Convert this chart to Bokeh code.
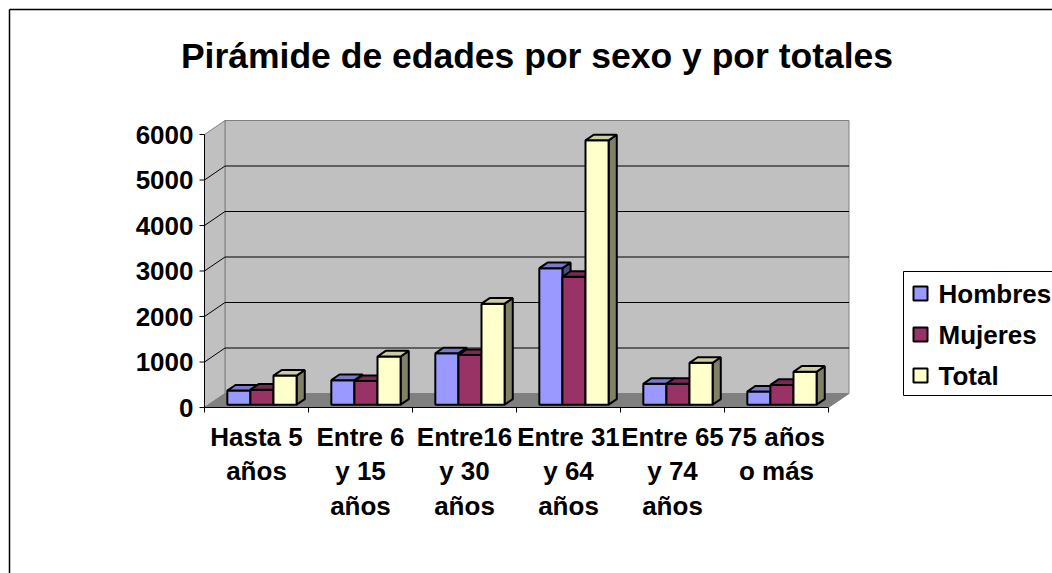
from bokeh.plotting import figure
from bokeh.models import Range1d
from bokeh.core.properties import value
from bokeh.embed import file_html
from bokeh.resources import INLINE

# ---------------- data ----------------
categories = ["Hasta 5\naños", "Entre 6\ny 15\naños", "Entre16\ny 30\naños",
              "Entre 31\ny 64\naños", "Entre 65\ny 74\naños", "75 años\no más"]
series_names = ["Hombres", "Mujeres", "Total"]
hombres = [310, 540, 1130, 3000, 460, 290]
mujeres = [330, 520, 1090, 2810, 460, 435]
total = [640, 1060, 2220, 5810, 920, 725]
y_ticks = [0, 1000, 2000, 3000, 4000, 5000, 6000]
y_tick_labels = ["0", "1000", "2000", "3000", "4000", "5000", "6000"]
title_text = "Pirámide de edades por sexo y por totales"

front_colors = ["#9999FF", "#993366", "#FFFFCC"]
top_colors = ["#7A7ACC", "#7A2952", "#CCCCA3"]
side_colors = ["#4C4C80", "#4C1933", "#808066"]
series_values = [hombres, mujeres, total]

# ---------------- layout ----------------
W, H = 1052, 573
CAT_PX = 104.0          # pixels per category on the front plane
VAL_PX = 45.5 / 1000.0  # pixels per value unit
X0 = 204.0              # canvas px of category origin
Y0 = 407.0              # canvas px (from top) of value 0

def sx(px):
    return (px - X0) / CAT_PX

def sy(py):
    return (Y0 - py) / VAL_PX

DX = 20.5 / CAT_PX
DY = 14.0 / VAL_PX
NCAT = len(categories)
YMAX = y_ticks[-1]

p = figure(width=W, height=H, output_backend="svg", toolbar_location=None,
           title=None, x_axis_location=None, y_axis_location=None,
           x_range=Range1d(-X0 / CAT_PX, (W - X0) / CAT_PX),
           y_range=Range1d(-(H - Y0) / VAL_PX, Y0 / VAL_PX),
           min_border=0, min_border_left=0, min_border_right=0,
           min_border_top=0, min_border_bottom=0)
p.grid.visible = False
p.outline_line_color = None
p.background_fill_color = "white"
p.border_fill_color = "white"

FONT = value("Liberation Sans")

# chart border (left + top visible)
p.segment(x0=[sx(9), sx(9)], y0=[sy(9), sy(9)], x1=[sx(9), sx(1200)], y1=[sy(800), sy(9)],
          line_color="black", line_width=1.5)

# title
p.text(x=[sx(536.5)], y=[sy(55)], text=[title_text], text_font=FONT,
       text_font_style="bold", text_font_size="35.5px", text_align="center",
       text_baseline="middle", text_color="black")

# walls and floor
p.patches(xs=[[DX, NCAT + DX, NCAT + DX, DX]], ys=[[DY, DY, YMAX + DY, YMAX + DY]],
          fill_color="#C0C0C0", line_color="#808080", line_width=1)
p.patches(xs=[[0, DX, DX, 0]], ys=[[0, DY, YMAX + DY, YMAX]],
          fill_color="#C0C0C0", line_color="#808080", line_width=1)
p.patches(xs=[[0, NCAT, NCAT + DX, DX]], ys=[[0, 0, DY, DY]],
          fill_color="#808080", line_color="#808080", line_width=1)

# gridlines
inner = y_ticks[1:-1]
p.segment(x0=[DX] * len(inner), y0=[v + DY for v in inner],
          x1=[NCAT + DX] * len(inner), y1=[v + DY for v in inner],
          line_color="black", line_width=1)
p.segment(x0=[0] * len(inner), y0=inner, x1=[DX] * len(inner),
          y1=[v + DY for v in inner], line_color="black", line_width=1)

# bars
GAP_L = 0.18
BW = 0.222
F0, F1 = 0.2, 0.6
ox0, oy0 = F0 * DX, F0 * DY
ddx, ddy = (F1 - F0) * DX, (F1 - F0) * DY
for j, vals in enumerate(series_values):
    fxs, fys, txs, tys, sxs, sys_ = [], [], [], [], [], []
    for i, v in enumerate(vals):
        xl = i + GAP_L + j * BW + ox0
        xr = xl + BW
        yb = oy0
        yt = v + oy0
        fxs.append([xl, xr, xr, xl]); fys.append([yb, yb, yt, yt])
        txs.append([xl, xr, xr + ddx, xl + ddx]); tys.append([yt, yt, yt + ddy, yt + ddy])
        sxs.append([xr, xr + ddx, xr + ddx, xr]); sys_.append([yb, yb + ddy, yt + ddy, yt])
    p.patches(xs=sxs, ys=sys_, fill_color=side_colors[j], line_color="black", line_width=2)
    p.patches(xs=fxs, ys=fys, fill_color=front_colors[j], line_color="black", line_width=2)
    p.patches(xs=txs, ys=tys, fill_color=top_colors[j], line_color="black", line_width=2)

# value axis
p.segment(x0=[0], y0=[0], x1=[0], y1=[YMAX], line_color="black", line_width=1)
p.segment(x0=[sx(199)] * len(y_ticks), y0=y_ticks, x1=[0] * len(y_ticks), y1=y_ticks,
          line_color="black", line_width=1)
p.text(x=[sx(193)] * len(y_ticks), y=y_ticks, text=y_tick_labels, text_font=FONT,
       text_font_style="bold", text_font_size="26px", text_align="right",
       text_baseline="middle", text_color="black")

# category axis
p.segment(x0=[0], y0=[0], x1=[NCAT], y1=[0], line_color="black", line_width=1)
p.segment(x0=list(range(NCAT + 1)), y0=[0] * (NCAT + 1), x1=list(range(NCAT + 1)),
          y1=[sy(412)] * (NCAT + 1), line_color="black", line_width=1)
p.text(x=[i + 0.5 for i in range(NCAT)], y=[sy(421)] * NCAT, text=categories,
       text_font=FONT, text_font_style="bold", text_font_size="26px",
       text_align="center", text_baseline="top", text_line_height=1.16,
       text_color="black")

# legend
p.quad(left=[sx(903)], right=[sx(1200)], top=[sy(271)], bottom=[sy(395)],
       fill_color="white", line_color="black", line_width=1)
leg_y = [sy(293), sy(334), sy(375)]
p.rect(x=[sx(920)] * 3, y=leg_y, width=14, height=14, width_units="screen",
       height_units="screen", fill_color=front_colors, line_color="black", line_width=2)
p.text(x=[sx(938)] * 3, y=leg_y, text=series_names, text_font=FONT,
       text_font_style="bold", text_font_size="26px", text_align="left",
       text_baseline="middle", text_color="black")

open("out.html", "w").write(file_html(p, INLINE))
